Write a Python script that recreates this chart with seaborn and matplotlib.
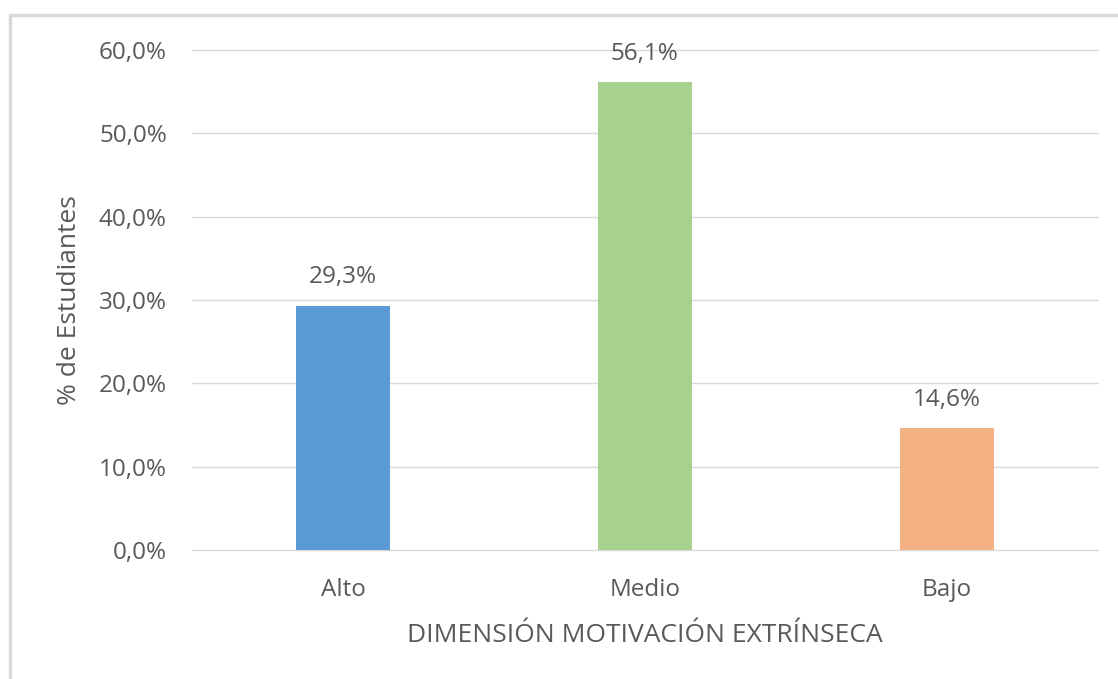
import matplotlib
matplotlib.use("Agg")
import matplotlib.pyplot as plt
import seaborn as sns
import pandas as pd
from matplotlib.ticker import FuncFormatter
from matplotlib.patches import Rectangle

# Values
categories = ["Alto", "Medio", "Bajo"]
percentages = [29.3, 56.1, 14.6]
bar_colors = ["#5B9BD5", "#A9D18E", "#F4B183"]

df = pd.DataFrame({"Nivel": categories, "Pct": percentages})

sns.set_theme(style="white")
plt.rcParams["font.family"] = ["Open Sans", "DejaVu Sans"]
text_color = "#595959"

fig = plt.figure(figsize=(11.18, 6.79), dpi=100)
ax = fig.add_axes([0.1717, 0.19, 0.8103, 0.7364])

sns.barplot(data=df, x="Nivel", y="Pct", hue="Nivel", palette=bar_colors,
            width=0.31, legend=False, ax=ax, saturation=1, linewidth=0)

ax.set_ylim(0, 60)
ax.set_yticks(range(0, 61, 10))
ax.yaxis.set_major_formatter(FuncFormatter(lambda v, _: f"{v:.1f}%".replace(".", ",")))
ax.grid(axis="y", color="#D9D9D9", linewidth=1.0)
for gl in ax.get_ygridlines():
    gl.set_clip_on(False)
ax.set_axisbelow(True)
for s in ax.spines.values():
    s.set_visible(False)

ax.tick_params(axis="both", colors=text_color, labelsize=17.5, length=0)
ax.tick_params(axis="y", pad=18)
ax.tick_params(axis="x", pad=20)

# data labels above the bars
for i, v in enumerate(percentages):
    ax.annotate(f"{v:.1f}%".replace(".", ","), (i, v), xytext=(0, 12),
                textcoords="offset points", ha="center", va="bottom",
                fontsize=17.5, color=text_color)

ax.set_ylabel("% de Estudiantes", fontsize=19, color=text_color, labelpad=12)
ax.set_xlabel("DIMENSIÓN MOTIVACIÓN EXTRÍNSECA", fontsize=19, color=text_color, labelpad=15)

# chart frame like the Excel export (top and left edge visible)
fig.patches.append(Rectangle((10 / 1118, -0.05), 1.2, 1 - 15 / 679 + 0.05,
                             transform=fig.transFigure, fill=False,
                             edgecolor="#D9D9D9", linewidth=2.5))

fig.savefig("out.png", dpi=100)
